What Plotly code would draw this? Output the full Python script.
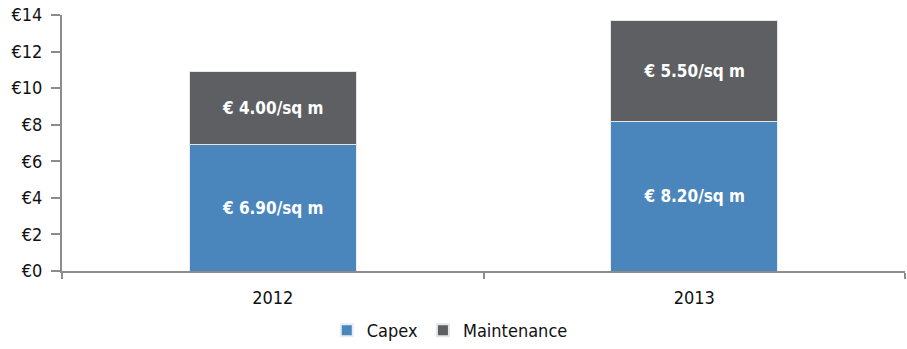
import plotly.graph_objects as go

years = ["2012", "2013"]
capex = [6.90, 8.20]
maintenance = [4.00, 5.50]
y_ticks = [0, 2, 4, 6, 8, 10, 12, 14]
y_tick_labels = ["€0", "€2", "€4", "€6", "€8", "€10", "€12", "€14"]

FONT = "DejaVu Sans Condensed, Liberation Sans Narrow, Arial Narrow, sans-serif"

def labels(vals):
    return [f"€ {v:.2f}/sq m" for v in vals]

fig = go.Figure()
fig.add_trace(go.Bar(
    name="Capex", x=years, y=capex,
    marker=dict(color="#4A86BC", line=dict(color="#E6EEF5", width=1)),
    text=labels(capex), textposition="inside", insidetextanchor="middle",
    textfont=dict(color="white", size=17, family=FONT, weight="bold"),
    width=0.397,
))
fig.add_trace(go.Bar(
    name="Maintenance", x=years, y=maintenance,
    marker=dict(color="#5E5F63", line=dict(color="#E6E6E6", width=1)),
    text=labels(maintenance), textposition="inside", insidetextanchor="middle",
    textfont=dict(color="white", size=17, family=FONT, weight="bold"),
    width=0.397,
))

fig.update_layout(
    barmode="stack",
    width=907, height=349,
    margin=dict(l=62, r=2, t=15, b=78, autoexpand=False),
    paper_bgcolor="white", plot_bgcolor="white",
    font=dict(family=FONT, size=17, color="#111111"),
    legend=dict(orientation="h", x=0.46, xanchor="center",
                yref="container", y=-0.01, yanchor="bottom",
                font=dict(size=18), itemsizing="constant", traceorder="normal",
                itemwidth=30),
    showlegend=True,
)
fig.update_xaxes(
    showline=True, linecolor="#8C8C8C", linewidth=2,
    ticks="outside", tickson="boundaries", ticklen=6, tickcolor="#8C8C8C", tickwidth=2,
    showgrid=False, tickfont=dict(size=18), ticklabelstandoff=9,
)
fig.update_yaxes(
    range=[0, 14], tickvals=y_ticks, ticktext=y_tick_labels,
    showline=True, linecolor="#8C8C8C", linewidth=2,
    ticks="outside", ticklen=9, tickcolor="#8C8C8C", tickwidth=2,
    showgrid=False, zeroline=False, tickfont=dict(size=18), ticklabelstandoff=5,
)

fig.write_html("out.html")
